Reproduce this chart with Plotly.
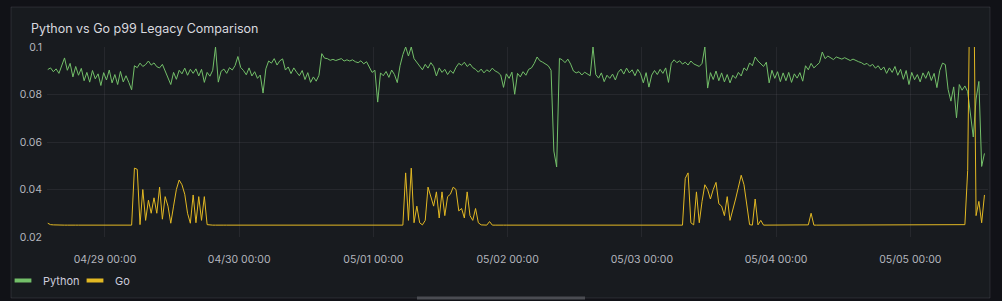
import pandas as pd
import plotly.graph_objects as go

# ---- data (30-minute samples) ----
start_time = "2024-04-28 13:46"
step = "30min"

python_p99 = [
    0.0905, 0.0912, 0.0896, 0.0908, 0.0889, 0.0921, 0.0954, 0.0902, 0.0931, 0.0874, 0.0918, 0.0881,
    0.0910, 0.0858, 0.0893, 0.0852, 0.0901, 0.0866, 0.0887, 0.0838, 0.0892, 0.0861, 0.0903, 0.0849,
    0.0884, 0.0842, 0.0897, 0.0853, 0.0879, 0.0851, 0.0820, 0.0921, 0.0913, 0.0932, 0.0918, 0.0926,
    0.0941, 0.0924, 0.0933, 0.0917, 0.0912, 0.0927, 0.0898, 0.0876, 0.0842, 0.0893, 0.0864, 0.0902,
    0.0887, 0.0911, 0.0881, 0.0906, 0.0889, 0.0908, 0.0878, 0.0906, 0.0851, 0.0893, 0.0877, 0.0902,
    0.1000, 0.0852, 0.0898, 0.0907, 0.0889, 0.0913, 0.0903, 0.0922, 0.0960, 0.0914, 0.0901, 0.0883,
    0.0912, 0.0878, 0.0896, 0.0868, 0.0882, 0.0806, 0.0908, 0.0941, 0.0932, 0.0951, 0.0924, 0.0942,
    0.0950, 0.0903, 0.0916, 0.0888, 0.0912, 0.0894, 0.0879, 0.0901, 0.0863, 0.0892, 0.0851, 0.0874,
    0.0856, 0.0881, 0.0972, 0.0953, 0.0951, 0.0944, 0.0948, 0.0943, 0.0946, 0.0951, 0.0941, 0.0946,
    0.0941, 0.0946, 0.0938, 0.0934, 0.0942, 0.0929, 0.0938, 0.0912, 0.0893, 0.0902, 0.0768, 0.0891,
    0.0879, 0.0897, 0.0872, 0.0903, 0.0884, 0.0850, 0.0921, 0.0968, 0.1000, 0.0962, 0.1000, 0.0951,
    0.0936, 0.0921, 0.0904, 0.0927, 0.0911, 0.0934, 0.0918, 0.0878, 0.0912, 0.0893, 0.0906, 0.0884,
    0.0901, 0.0889, 0.0914, 0.0931, 0.0923, 0.0936, 0.0918, 0.0929, 0.0913, 0.0906, 0.0894, 0.0907,
    0.0891, 0.0904, 0.0896, 0.0911, 0.0899, 0.0893, 0.0882, 0.0830, 0.0887, 0.0868, 0.0894, 0.0801,
    0.0889, 0.0874, 0.0896, 0.0881, 0.0906, 0.0912, 0.0931, 0.0958, 0.0942, 0.0936, 0.0928, 0.0921,
    0.0902, 0.0562, 0.0495, 0.0952, 0.0946, 0.0934, 0.0949, 0.0928, 0.0899, 0.0891, 0.0896, 0.0882,
    0.0894, 0.0887, 0.0879, 0.1000, 0.0884, 0.0869, 0.0891, 0.0854, 0.0881, 0.0868, 0.0886, 0.0861,
    0.0893, 0.0907, 0.0886, 0.0911, 0.0891, 0.0904, 0.0879, 0.0906, 0.0888, 0.0849, 0.0892, 0.0831,
    0.0882, 0.0901, 0.0884, 0.0906, 0.0889, 0.0912, 0.0851, 0.0931, 0.0946, 0.0934, 0.0942, 0.0928,
    0.0936, 0.0924, 0.0941, 0.0929, 0.0923, 0.0918, 0.0931, 0.1000, 0.0827, 0.0892, 0.0863, 0.0899,
    0.0858, 0.0891, 0.0853, 0.0884, 0.0849, 0.0881, 0.0868, 0.0893, 0.0878, 0.0912, 0.0901, 0.0933,
    0.0921, 0.0958, 0.0941, 0.0929, 0.0918, 0.0936, 0.0849, 0.0902, 0.0868, 0.0896, 0.0854, 0.0891,
    0.0858, 0.0893, 0.0851, 0.0887, 0.0869, 0.0892, 0.0856, 0.0921, 0.0904, 0.0931, 0.0912, 0.0923,
    0.0934, 0.0979, 0.0951, 0.0962, 0.0954, 0.0947, 0.0958, 0.0953, 0.0949, 0.0955, 0.0948, 0.0943,
    0.0949, 0.0942, 0.0938, 0.0934, 0.0926, 0.0931, 0.0919, 0.0927, 0.0911, 0.0921, 0.0903, 0.0916,
    0.0889, 0.0912, 0.0893, 0.0918, 0.0881, 0.0906, 0.0864, 0.0901, 0.0842, 0.0893, 0.0862, 0.0884,
    0.0853, 0.0891, 0.0868, 0.0897, 0.0859, 0.0889, 0.0829, 0.0901, 0.0932, 0.0926, 0.0821, 0.0772,
    0.0832, 0.0702, 0.0842, 0.0818, 0.0836, 0.0812, 0.0706, 0.0621, 0.0781, 0.0855, 0.0497, 0.0552,
]

go_p99 = [
    0.0258, 0.0252, 0.0251, 0.0250, 0.0250, 0.0251, 0.0250, 0.0250, 0.0251, 0.0250, 0.0250, 0.0250,
    0.0250, 0.0251, 0.0250, 0.0250, 0.0250, 0.0251, 0.0250, 0.0250, 0.0250, 0.0251, 0.0250, 0.0250,
    0.0250, 0.0250, 0.0251, 0.0250, 0.0250, 0.0250, 0.0250, 0.0490, 0.0485, 0.0252, 0.0400, 0.0270,
    0.0355, 0.0300, 0.0365, 0.0300, 0.0410, 0.0275, 0.0370, 0.0330, 0.0258, 0.0330, 0.0400, 0.0440,
    0.0420, 0.0380, 0.0300, 0.0258, 0.0377, 0.0260, 0.0370, 0.0270, 0.0370, 0.0252, 0.0250, 0.0250,
    0.0250, 0.0251, 0.0250, 0.0250, 0.0250, 0.0250, 0.0251, 0.0250, 0.0250, 0.0250, 0.0250, 0.0251,
    0.0250, 0.0250, 0.0250, 0.0251, 0.0250, 0.0250, 0.0250, 0.0250, 0.0251, 0.0250, 0.0250, 0.0250,
    0.0250, 0.0251, 0.0250, 0.0250, 0.0250, 0.0250, 0.0252, 0.0250, 0.0250, 0.0250, 0.0251, 0.0250,
    0.0250, 0.0250, 0.0250, 0.0251, 0.0250, 0.0250, 0.0250, 0.0250, 0.0251, 0.0250, 0.0250, 0.0250,
    0.0251, 0.0250, 0.0250, 0.0250, 0.0250, 0.0251, 0.0250, 0.0250, 0.0250, 0.0250, 0.0251, 0.0250,
    0.0250, 0.0250, 0.0251, 0.0250, 0.0250, 0.0250, 0.0250, 0.0250, 0.0470, 0.0270, 0.0490, 0.0260,
    0.0330, 0.0260, 0.0251, 0.0270, 0.0410, 0.0370, 0.0330, 0.0390, 0.0280, 0.0390, 0.0290, 0.0370,
    0.0380, 0.0410, 0.0400, 0.0310, 0.0320, 0.0280, 0.0390, 0.0290, 0.0270, 0.0320, 0.0260, 0.0251,
    0.0250, 0.0250, 0.0265, 0.0250, 0.0250, 0.0251, 0.0250, 0.0250, 0.0250, 0.0250, 0.0251, 0.0250,
    0.0250, 0.0250, 0.0250, 0.0251, 0.0250, 0.0250, 0.0250, 0.0250, 0.0251, 0.0250, 0.0250, 0.0250,
    0.0250, 0.0251, 0.0250, 0.0250, 0.0250, 0.0250, 0.0251, 0.0250, 0.0250, 0.0250, 0.0250, 0.0251,
    0.0250, 0.0250, 0.0250, 0.0251, 0.0250, 0.0250, 0.0250, 0.0250, 0.0251, 0.0250, 0.0250, 0.0250,
    0.0250, 0.0251, 0.0250, 0.0250, 0.0250, 0.0250, 0.0251, 0.0250, 0.0250, 0.0250, 0.0250, 0.0251,
    0.0250, 0.0250, 0.0250, 0.0251, 0.0250, 0.0250, 0.0250, 0.0250, 0.0251, 0.0250, 0.0250, 0.0250,
    0.0447, 0.0470, 0.0260, 0.0251, 0.0390, 0.0260, 0.0350, 0.0420, 0.0400, 0.0360, 0.0400, 0.0430,
    0.0340, 0.0330, 0.0290, 0.0370, 0.0270, 0.0310, 0.0360, 0.0410, 0.0460, 0.0420, 0.0330, 0.0252,
    0.0250, 0.0360, 0.0251, 0.0270, 0.0250, 0.0250, 0.0251, 0.0250, 0.0250, 0.0250, 0.0250, 0.0251,
    0.0250, 0.0250, 0.0250, 0.0251, 0.0250, 0.0250, 0.0250, 0.0250, 0.0251, 0.0300, 0.0250, 0.0250,
    0.0250, 0.0251, 0.0250, 0.0250, 0.0250, 0.0250, 0.0251, 0.0250, 0.0250, 0.0250, 0.0250, 0.0251,
    0.0250, 0.0250, 0.0250, 0.0251, 0.0250, 0.0250, 0.0250, 0.0250, 0.0251, 0.0250, 0.0250, 0.0250,
    0.0250, 0.0251, 0.0250, 0.0250, 0.0250, 0.0250, 0.0251, 0.0250, 0.0250, 0.0250, 0.0250, 0.0251,
    0.0250, 0.0250, 0.0250, 0.0251, 0.0250, 0.0250, 0.0250, 0.0250, 0.0251, 0.0250, 0.0250, 0.0250,
    0.0250, 0.0250, 0.0251, 0.0250, 0.0252, 0.0480, 0.1500, 0.1500, 0.0290, 0.0350, 0.0260, 0.0377,
]

series_names = ["Python", "Go"]
y_tick_vals = [0.02, 0.04, 0.06, 0.08, 0.1]
y_tick_text = ["0.02", "0.04", "0.06", "0.08", "0.1"]
title_text = "Python vs Go p99 Legacy Comparison"

times = pd.date_range(start_time, periods=len(python_p99), freq=step)

# ---- styling ----
PAGE_BG = "#111217"
PANEL_BG = "#181b1f"
GRID = "rgba(204,204,220,0.08)"
TEXT = "#ccccdc"
AXIS_TEXT = "#b4b6be"
GREEN = "#73bf69"
YELLOW = "#e2b823"
FONT = "Inter, Roboto, 'DejaVu Sans', sans-serif"

W, H = 1002, 301
L, R, T, B = 47, 14, 47, 64
pw, ph = W - L - R, H - T - B


def px_x(p):
    return (p - L) / pw


def px_y(p):
    return (H - B - p) / ph


fig = go.Figure()
for name, vals, col in zip(series_names, [python_p99, go_p99], [GREEN, YELLOW]):
    fig.add_trace(go.Scatter(x=times, y=vals, name=name, mode="lines", legendgroup=name,
                             showlegend=False, line=dict(color=col, width=1)))
    # legend key (short thick dash, Grafana style)
    fig.add_trace(go.Scatter(x=[None], y=[None], name=name, mode="markers", legendgroup=name,
                             showlegend=True, hoverinfo="skip",
                             marker=dict(symbol="line-ew", size=12, color=col,
                                         line=dict(color=col, width=4))))

fig.update_layout(
    width=W, height=H,
    margin=dict(l=L, r=R, t=T, b=B, autoexpand=False),
    paper_bgcolor=PAGE_BG,
    plot_bgcolor=PANEL_BG,
    font=dict(family=FONT, color=TEXT, size=11),
    showlegend=True,
    legend=dict(orientation="h", x=px_x(3), y=px_y(266), xanchor="left", yanchor="top",
                font=dict(size=11, color=TEXT), bgcolor="rgba(0,0,0,0)",
                entrywidth=27, traceorder="normal", itemsizing="trace"),
    shapes=[
        dict(type="rect", xref="paper", yref="paper", layer="below",
             x0=px_x(11), x1=px_x(990), y0=px_y(298), y1=px_y(7),
             fillcolor=PANEL_BG, line=dict(color="rgba(204,204,220,0.12)", width=1)),
        dict(type="rect", xref="paper", yref="paper", layer="above",
             x0=px_x(417), x1=px_x(585), y0=px_y(299.5), y1=px_y(296.5),
             fillcolor="#4a4c52", line=dict(width=0)),
    ],
    annotations=[
        dict(text=title_text, xref="paper", yref="paper", x=px_x(29), y=px_y(29),
             xanchor="left", yanchor="middle", showarrow=False,
             font=dict(size=12.5, color="#d8d9df", family=FONT)),
    ],
)

fig.update_xaxes(
    type="date", automargin=False,
    range=["2024-04-28 13:38", "2024-05-05 13:54"],
    tickformat="%m/%d %H:%M",
    dtick=86400000, tick0="2024-04-29 00:00",
    showgrid=True, gridcolor=GRID, gridwidth=1,
    zeroline=False, showline=False,
    ticks="", ticklabelstandoff=14,
    tickfont=dict(size=10.5, color=AXIS_TEXT, family=FONT),
)
fig.update_yaxes(
    automargin=False,
    range=[0.02, 0.1],
    tickvals=y_tick_vals, ticktext=y_tick_text,
    showgrid=True, gridcolor=GRID, gridwidth=1,
    zeroline=False, showline=False,
    ticks="", ticklabelstandoff=4,
    tickfont=dict(size=10.5, color=AXIS_TEXT, family=FONT),
)

fig.write_html("out.html")
